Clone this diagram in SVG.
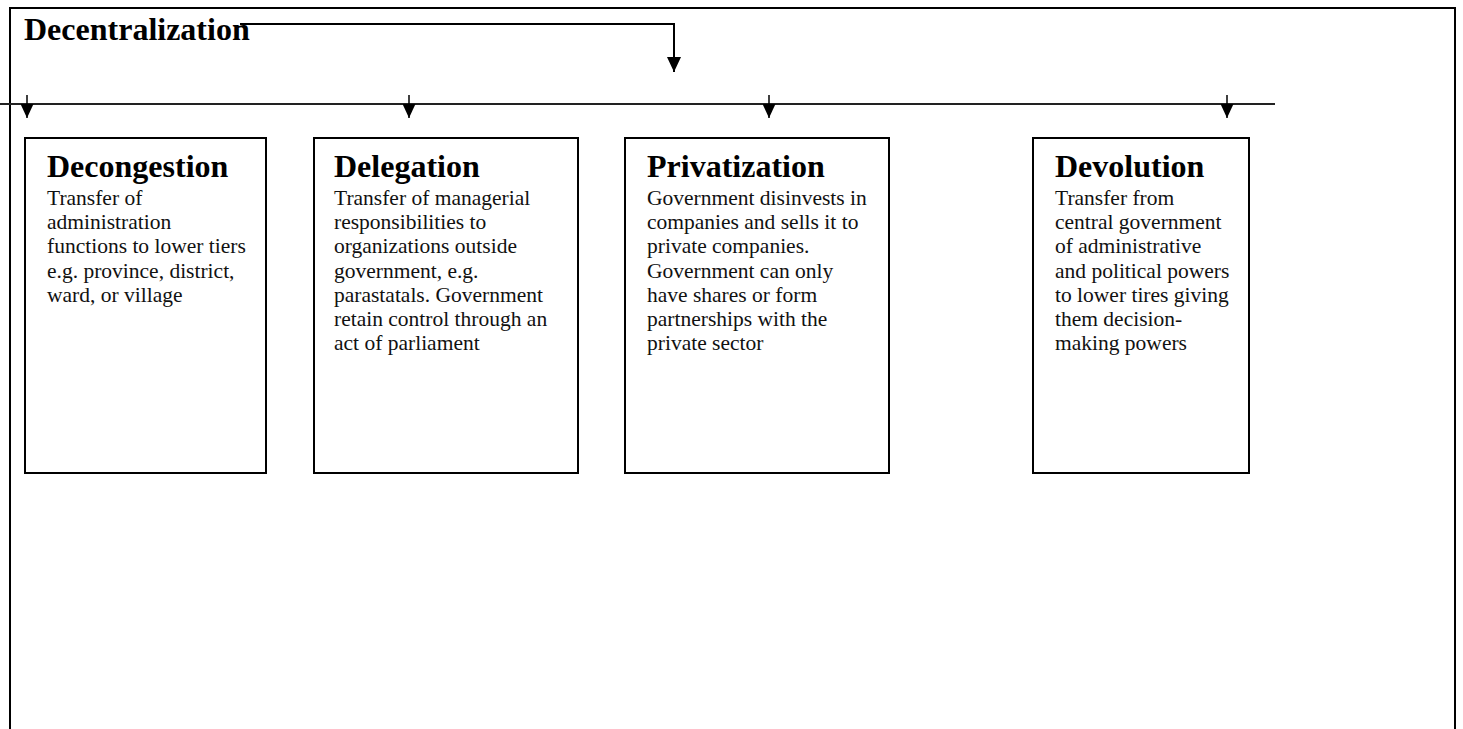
<svg xmlns="http://www.w3.org/2000/svg" width="1463" height="729" viewBox="0 0 1463 729">
<style>
.frame{fill:none;stroke:#000;stroke-width:2}
.box{fill:#fff;stroke:#000;stroke-width:2}
.conn{fill:none;stroke:#000;stroke-width:1.5}
.lead{fill:none;stroke:#000;stroke-width:2}
.bus{fill:none;stroke:#222;stroke-width:2}
.title{font-family:"Liberation Serif","Times New Roman",serif;font-weight:bold;font-size:32px;fill:#000}
.head{font-family:"Liberation Serif","Times New Roman",serif;font-weight:bold;font-size:32px;fill:#000}
.body{font-family:"Liberation Serif","Times New Roman",serif;font-size:21.5px;fill:#111}
</style>
<defs>
<marker id="arrs" markerUnits="userSpaceOnUse" markerWidth="14" markerHeight="13" viewBox="0 0 14 13" refX="14" refY="6.5" orient="auto">
<path d="M0,0 L14,6.5 L0,13 Z" fill="#000"/>
</marker>
<marker id="arrl" markerUnits="userSpaceOnUse" markerWidth="15" markerHeight="14" viewBox="0 0 15 14" refX="15" refY="7" orient="auto">
<path d="M0,0 L15,7 L0,14 Z" fill="#000"/>
</marker>
</defs>
<rect width="1463" height="729" fill="#fff"/>
<path class="frame" d="M10,729 L10,8 L1455,8 L1455,729"/>
<g id="title">
<text class="title" x="24" y="40">Decentralization</text>
</g>
<g id="connectors">
<path class="lead" d="M240,24 L674,24 L674,72" marker-end="url(#arrl)"/>
<path class="bus" d="M0,104 L1275,104"/>
<path class="conn" d="M27,95 L27,118" marker-end="url(#arrs)"/>
<path class="conn" d="M409,95 L409,118" marker-end="url(#arrs)"/>
<path class="conn" d="M769,95 L769,118" marker-end="url(#arrs)"/>
<path class="conn" d="M1227,95 L1227,118" marker-end="url(#arrs)"/>
</g>
<g id="decongestion">
<rect class="box" x="25" y="138" width="241" height="335"/>
<text class="head" x="47" y="177">Decongestion</text>
<text class="body">
<tspan x="47" y="205">Transfer of</tspan>
<tspan x="47" y="229">administration</tspan>
<tspan x="47" y="253">functions to lower tiers</tspan>
<tspan x="47" y="278">e.g. province, district,</tspan>
<tspan x="47" y="302">ward, or village</tspan>
</text>
</g>
<g id="delegation">
<rect class="box" x="314" y="138" width="264" height="335"/>
<text class="head" x="334" y="177">Delegation</text>
<text class="body">
<tspan x="334" y="205">Transfer of managerial</tspan>
<tspan x="334" y="229">responsibilities to</tspan>
<tspan x="334" y="253">organizations outside</tspan>
<tspan x="334" y="278">government, e.g.</tspan>
<tspan x="334" y="302">parastatals. Government</tspan>
<tspan x="334" y="326">retain control through an</tspan>
<tspan x="334" y="350">act of parliament</tspan>
</text>
</g>
<g id="privatization">
<rect class="box" x="625" y="138" width="264" height="335"/>
<text class="head" x="647" y="177">Privatization</text>
<text class="body">
<tspan x="647" y="205">Government disinvests in</tspan>
<tspan x="647" y="229">companies and sells it to</tspan>
<tspan x="647" y="253">private companies.</tspan>
<tspan x="647" y="278">Government can only</tspan>
<tspan x="647" y="302">have shares or form</tspan>
<tspan x="647" y="326">partnerships with the</tspan>
<tspan x="647" y="350">private sector</tspan>
</text>
</g>
<g id="devolution">
<rect class="box" x="1033" y="138" width="216" height="335"/>
<text class="head" x="1055" y="177">Devolution</text>
<text class="body">
<tspan x="1055" y="205">Transfer from</tspan>
<tspan x="1055" y="229">central government</tspan>
<tspan x="1055" y="253">of administrative</tspan>
<tspan x="1055" y="278">and political powers</tspan>
<tspan x="1055" y="302">to lower tires giving</tspan>
<tspan x="1055" y="326">them decision-</tspan>
<tspan x="1055" y="350">making powers</tspan>
</text>
</g>
</svg>
